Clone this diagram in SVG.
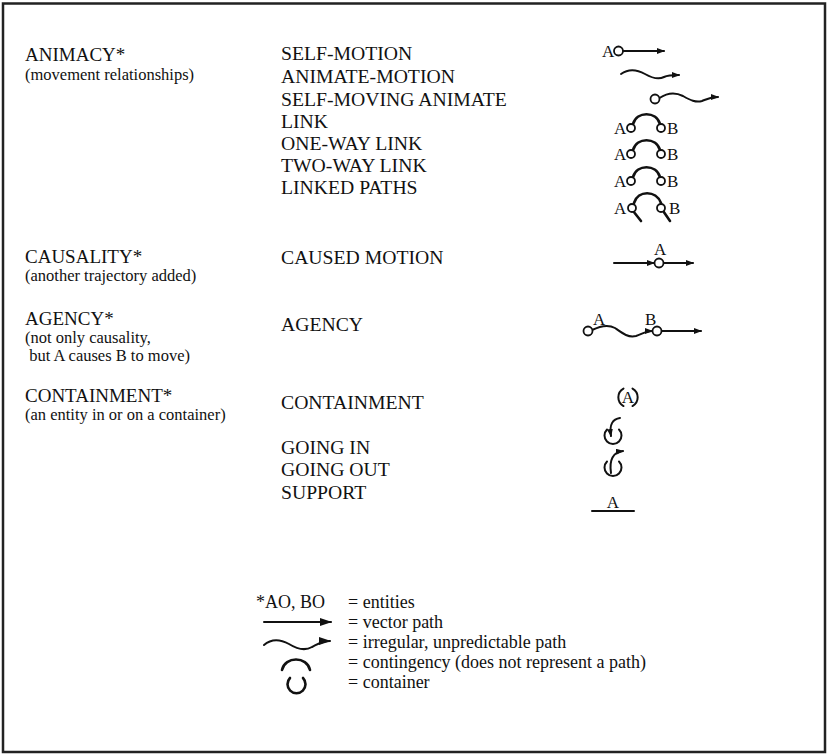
<svg xmlns="http://www.w3.org/2000/svg" width="829" height="756" viewBox="0 0 829 756">
<defs>
<style>
text{font-family:"Liberation Serif","Times New Roman",serif;fill:#111}
.h{font-size:19px}
.s{font-size:16.5px}
.m{font-size:19.7px}
.l{font-size:18px}
.g{font-size:17px}
.ln{fill:none;stroke:#111;stroke-width:2;stroke-linecap:round}
.tk{fill:none;stroke:#111;stroke-width:2.6;stroke-linecap:round}
.c{fill:#fff;stroke:#111;stroke-width:1.8}
</style>
<marker id="ah" viewBox="0 0 8 6" markerWidth="8" markerHeight="6" refX="7" refY="3" orient="auto" markerUnits="userSpaceOnUse"><path d="M0,0 L8,3 L0,6 z" fill="#111"/></marker>
<marker id="ahL" viewBox="0 0 12 8" markerWidth="12" markerHeight="8" refX="11" refY="4" orient="auto" markerUnits="userSpaceOnUse"><path d="M0,0 L12,4 L0,8 z" fill="#111"/></marker>
</defs>
<rect x="3" y="3.5" width="822" height="748.5" fill="#fff" stroke="#222" stroke-width="2.5"/>

<g id="categories">
<g id="animacy"><text class="h" x="25" y="61">ANIMACY*</text><text class="s" x="25" y="80">(movement relationships)</text></g>
<g id="causality"><text class="h" x="25" y="263">CAUSALITY*</text><text class="s" x="25" y="281">(another trajectory added)</text></g>
<g id="agency"><text class="h" x="25" y="325">AGENCY*</text><text class="s" x="25" y="343">(not only causality,</text><text class="s" x="25" y="361" xml:space="preserve"> but A causes B to move)</text></g>
<g id="containment"><text class="h" x="25" y="402">CONTAINMENT*</text><text class="s" x="25" y="420">(an entity in or on a container)</text></g>
</g>

<g id="labels">
<text class="m" x="281" y="60">SELF-MOTION</text>
<text class="m" x="281" y="83">ANIMATE-MOTION</text>
<text class="m" x="281" y="106">SELF-MOVING ANIMATE</text>
<text class="m" x="281" y="128">LINK</text>
<text class="m" x="281" y="150">ONE-WAY LINK</text>
<text class="m" x="281" y="172">TWO-WAY LINK</text>
<text class="m" x="281" y="194">LINKED PATHS</text>
<text class="m" x="281" y="264">CAUSED MOTION</text>
<text class="m" x="281" y="331">AGENCY</text>
<text class="m" x="281" y="409">CONTAINMENT</text>
<text class="m" x="281" y="454">GOING IN</text>
<text class="m" x="281" y="476">GOING OUT</text>
<text class="m" x="281" y="499">SUPPORT</text>
</g>

<g id="icons">
<g id="icon-self-motion"><text class="g" x="602" y="57">A</text><line class="ln" x1="623" y1="51" x2="664" y2="51" marker-end="url(#ah)"/><circle class="c" cx="618.5" cy="51" r="4.5"/></g>
<g id="icon-animate-motion"><path class="ln" d="M621,74 C628,69 636,69 645,74 C652,78 658,80 664,77 C668,75 671,75 679,75" marker-end="url(#ah)"/></g>
<g id="icon-self-moving"><path class="ln" d="M659.5,98 C667,93 675,92 683,96 C690,100 696,103 702,101 C707,99 710,97 718,97" marker-end="url(#ah)"/><circle class="c" cx="655" cy="99" r="4.5"/></g>
<g id="icon-link"><text class="g" x="614" y="134">A</text><path class="tk" d="M633,124 C637,111 656,111 660,124"/><circle class="c" cx="631" cy="128" r="4"/><circle class="c" cx="661" cy="128" r="4"/><text class="g" x="667" y="134">B</text></g>
<g id="icon-one-way"><text class="g" x="614" y="160">A</text><path class="tk" d="M633,150 C637,137 656,137 660,150"/><circle class="c" cx="631" cy="154" r="4"/><circle class="c" cx="661" cy="154" r="4"/><text class="g" x="667" y="160">B</text></g>
<g id="icon-two-way"><text class="g" x="614" y="187">A</text><path class="tk" d="M633,177 C637,164 656,164 660,177"/><circle class="c" cx="631" cy="181" r="4"/><circle class="c" cx="661" cy="181" r="4"/><text class="g" x="667" y="187">B</text></g>
<g id="icon-linked-paths"><text class="g" x="614" y="214">A</text><path class="tk" d="M634,203 C638,190 656,190 661,203"/><path class="tk" d="M633.5,211.5 L641,221"/><path class="tk" d="M663.5,211.5 L670,221"/><circle class="c" cx="632" cy="208" r="4"/><circle class="c" cx="661" cy="208" r="4"/><text class="g" x="669" y="214">B</text></g>
<g id="icon-caused-motion"><text class="g" x="654" y="255">A</text><line class="ln" x1="614" y1="263" x2="654" y2="263" marker-end="url(#ah)"/><line class="ln" x1="663.5" y1="263" x2="693" y2="263" marker-end="url(#ah)"/><circle class="c" cx="659" cy="263" r="4.5"/></g>
<g id="icon-agency"><text class="g" x="593" y="325">A</text><text class="g" x="645" y="325">B</text><path class="ln" d="M592,330 C600,326 608,324 615,328 C622,333 628,338 636,336 C642,334 646,331 652,331" marker-end="url(#ah)"/><line class="ln" x1="661.5" y1="331" x2="701" y2="331" marker-end="url(#ah)"/><circle class="c" cx="588" cy="331" r="4.5"/><circle class="c" cx="657" cy="331" r="4.5"/></g>
<g id="icon-containment"><text class="g" x="628" y="403" text-anchor="middle">A</text><path class="ln" d="M623.5,388.5 A10,10 0 0 0 623.5,406"/><path class="ln" d="M632.5,388.5 A10,10 0 0 1 632.5,406"/></g>
<g id="icon-going-in"><path class="ln" d="M607,429.5 A8.5,8.5 0 1 0 619,429.5"/><path class="ln" d="M620,418 C613,419 609,424 611,436" marker-end="url(#ah)"/></g>
<g id="icon-going-out"><path class="ln" d="M607,461.5 A8.5,8.5 0 1 0 619,461.5"/><path class="ln" d="M611,473 C609,460 613,452 623,451" marker-end="url(#ah)"/></g>
<g id="icon-support"><text class="g" x="613" y="508" text-anchor="middle">A</text><line class="ln" x1="592" y1="511" x2="634" y2="511"/></g>
</g>

<g id="legend">
<text class="l" x="256" y="608">*AO, BO</text><text class="l" x="348" y="608">= entities</text>
<line class="ln" x1="264" y1="622" x2="331" y2="622" marker-end="url(#ahL)"/><text class="l" x="348" y="628">= vector path</text>
<path class="ln" d="M264,645 C272,638 280,639 289,644 C297,649 305,651 312,647 C318,644 322,641 330,641" marker-end="url(#ahL)"/><text class="l" x="348" y="648">= irregular, unpredictable path</text>
<path class="tk" d="M282,670 C285,656 307,656 310,670"/><text class="l" x="348" y="668">= contingency (does not represent a path)</text>
<path class="tk" d="M290,678 A9,9 0 1 0 303,678"/><text class="l" x="348" y="688">= container</text>
</g>
</svg>
